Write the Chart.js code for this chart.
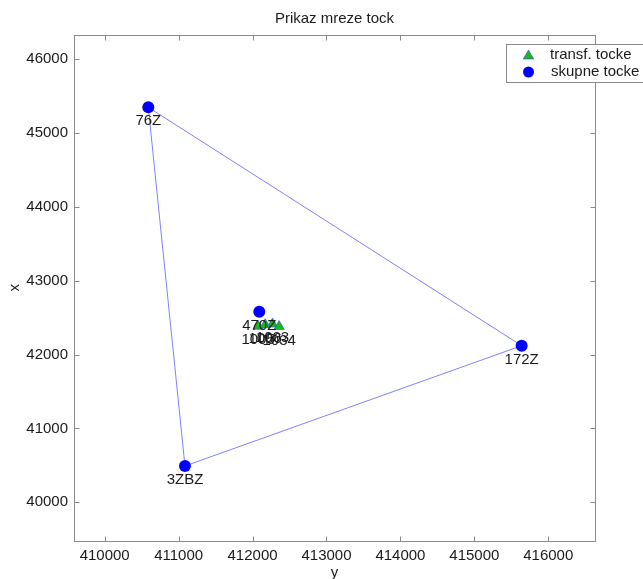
<!DOCTYPE html>
<html>
<head>
<meta charset="utf-8">
<script src="https://cdn.jsdelivr.net/npm/chart.js@4/dist/chart.umd.min.js"></script>
<style>
  html, body { margin: 0; padding: 0; background: #fff; }
  canvas { display: block; }
</style>
</head>
<body>
<canvas id="chart" width="643" height="579"></canvas>
<script>
// skupne tocke - y je vodoravna os, x navpicna (geodetski zapis)
const skupneNames = ["76Z", "172Z", "3ZBZ", "470Z"];
const skupneY = [410590, 415640, 411086, 412091];
const skupneX = [45350, 42121, 40492, 42581];

// transf. tocke
const transfNames = ["1005", "1006", "1003", "1034"];
const transfY = [412075, 412170, 412270, 412360];
const transfX = [42385, 42405, 42415, 42380];

// obod mreze
const mrezaOrder = ["76Z", "172Z", "3ZBZ", "76Z"];

const yTicks = [410000, 411000, 412000, 413000, 414000, 415000, 416000];
const xTicks = [40000, 41000, 42000, 43000, 44000, 45000, 46000];

const FONT = "'Liberation Sans', Arial, sans-serif";
const TEXT = "#1a1a1a";
const FRAME = "#8a8a8a";
const GREEN = "#19b919";

const skupne = skupneNames.map((n, i) => ({ x: skupneY[i], y: skupneX[i] }));
const transf = transfNames.map((n, i) => ({ x: transfY[i], y: transfX[i] }));
const obod = mrezaOrder.map(n => skupne[skupneNames.indexOf(n)]);

// okvir z notranjimi oznakami
const okvir = {
    id: "okvir",
    beforeDatasetsDraw(chart) {
        const { ctx, chartArea: a, scales } = chart;
        const l = Math.round(a.left) + 0.5, r = Math.round(a.right) + 0.5;
        const t = Math.round(a.top) + 0.5, b = Math.round(a.bottom) + 0.5;
        ctx.save();
        ctx.strokeStyle = FRAME;
        ctx.lineWidth = 1;
        ctx.beginPath();
        scales.x.ticks.forEach(tk => {
            const px = Math.round(scales.x.getPixelForValue(tk.value)) + 0.5;
            ctx.moveTo(px, b); ctx.lineTo(px, b - 5);
            ctx.moveTo(px, t); ctx.lineTo(px, t + 5);
        });
        scales.y.ticks.forEach(tk => {
            const py = Math.round(scales.y.getPixelForValue(tk.value)) + 0.5;
            ctx.moveTo(l, py); ctx.lineTo(l + 5, py);
            ctx.moveTo(r, py); ctx.lineTo(r - 5, py);
        });
        ctx.stroke();
        ctx.strokeRect(l, t, r - l, b - t);
        ctx.restore();
    }
};

// imena tock pod markerji
const imena = {
    id: "imena",
    afterDatasetsDraw(chart) {
        const ctx = chart.ctx;
        ctx.save();
        ctx.font = "15px " + FONT;
        ctx.fillStyle = TEXT;
        ctx.textAlign = "center";
        ctx.textBaseline = "middle";
        [[0, transfNames], [1, skupneNames]].forEach(([di, names]) => {
            chart.getDatasetMeta(di).data.forEach((pt, i) => {
                ctx.fillText(names[i], pt.x, pt.y + 14);
            });
        });
        ctx.restore();
    }
};

// legenda v zgornjem desnem kotu
const legenda = {
    id: "legenda",
    afterDraw(chart) {
        const ctx = chart.ctx;
        ctx.save();
        ctx.fillStyle = "#fff";
        ctx.strokeStyle = FRAME;
        ctx.lineWidth = 1;
        ctx.fillRect(506.5, 44.5, 160, 38);
        ctx.strokeRect(506.5, 44.5, 160, 38);

        // trikotnik
        const cx = 528.5, cy = 56, r = 6;
        ctx.beginPath();
        ctx.moveTo(cx, cy - r);
        ctx.lineTo(cx + r * 0.866, cy + r * 0.5);
        ctx.lineTo(cx - r * 0.866, cy + r * 0.5);
        ctx.closePath();
        ctx.fillStyle = GREEN;
        ctx.fill();
        ctx.strokeStyle = "#3a3aff";
        ctx.lineWidth = 0.6;
        ctx.stroke();

        // krog
        ctx.beginPath();
        ctx.arc(528.5, 72, 5.5, 0, Math.PI * 2);
        ctx.fillStyle = "#0000ff";
        ctx.fill();

        ctx.font = "15px " + FONT;
        ctx.fillStyle = TEXT;
        ctx.textBaseline = "middle";
        ctx.fillText(chart.data.datasets[0].label, 550, 55);
        ctx.fillText(chart.data.datasets[1].label, 551, 72);
        ctx.restore();
    }
};

new Chart(document.getElementById("chart"), {
    type: "scatter",
    data: {
        datasets: [
            {
                label: "transf. tocke",
                data: transf,
                pointStyle: "triangle",
                pointRadius: 6,
                backgroundColor: GREEN,
                borderColor: "#3a3aff",
                borderWidth: 0.6
            },
            {
                label: "skupne tocke",
                data: skupne,
                pointStyle: "circle",
                pointRadius: 6,
                backgroundColor: "#0000ff",
                borderColor: "#0000ff",
                borderWidth: 0
            },
            {
                label: "mreza",
                data: obod,
                showLine: true,
                pointRadius: 0,
                borderColor: "#8080ff",
                borderWidth: 1,
                fill: false
            }
        ]
    },
    options: {
        responsive: false,
        animation: false,
        layout: { padding: { left: 0, right: 48, top: 0, bottom: 0 } },
        plugins: {
            legend: { display: false },
            tooltip: { enabled: false },
            title: {
                display: true,
                text: "Prikaz mreze tock",
                fullSize: false,
                color: TEXT,
                font: { family: FONT, size: 15, weight: "normal", lineHeight: 1.2 },
                padding: { top: 10, bottom: 6.7 }
            }
        },
        scales: {
            x: {
                type: "linear",
                min: 409585,
                max: 416632,
                grid: { display: false, drawTicks: false },
                border: { display: false },
                afterBuildTicks: s => { s.ticks = yTicks.map(v => ({ value: v })); },
                afterFit: s => { s.height = 38; },
                ticks: {
                    padding: 6,
                    maxRotation: 0,
                    autoSkip: false,
                    color: TEXT,
                    font: { family: FONT, size: 15 },
                    callback: v => String(v)
                },
                title: {
                    display: true,
                    text: "y",
                    color: TEXT,
                    font: { family: FONT, size: 15, lineHeight: 0.8 },
                    padding: 0
                }
            },
            y: {
                type: "linear",
                min: 39476,
                max: 46333,
                grid: { display: false, drawTicks: false },
                border: { display: false },
                afterBuildTicks: s => { s.ticks = xTicks.map(v => ({ value: v })); },
                afterFit: s => { s.width = 74; },
                ticks: {
                    padding: 6,
                    autoSkip: false,
                    color: TEXT,
                    font: { family: FONT, size: 15 },
                    callback: v => String(v)
                },
                title: {
                    display: true,
                    text: "x",
                    color: TEXT,
                    font: { family: FONT, size: 15, lineHeight: 1.2 },
                    padding: { top: 6, bottom: 0 }
                }
            }
        }
    },
    plugins: [okvir, imena, legenda]
});
</script>
</body>
</html>
